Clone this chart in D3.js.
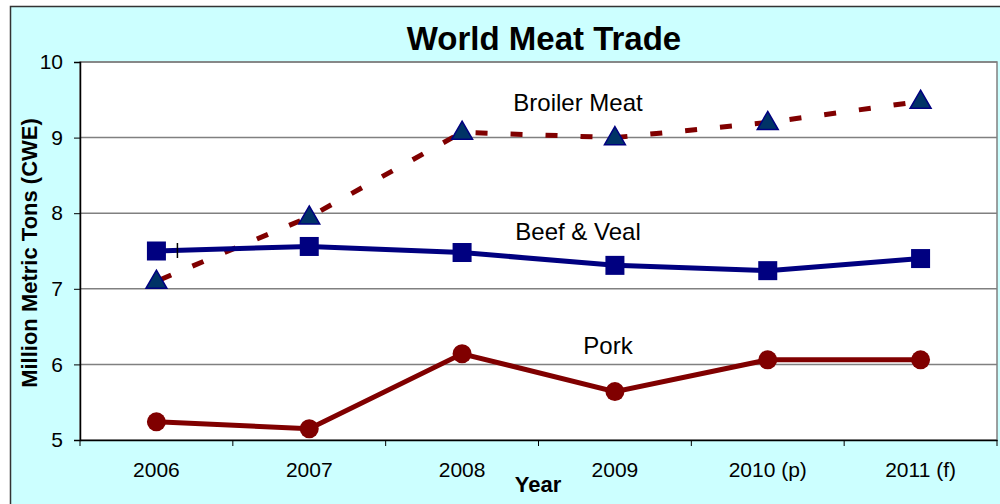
<!DOCTYPE html>
<html>
<head>
<meta charset="utf-8">
<script src="https://cdn.jsdelivr.net/npm/d3@7"></script>
<style>
  body { margin: 0; background: #fff; }
  text { font-family: "Liberation Sans", Arial, sans-serif; }
</style>
</head>
<body>
<svg id="chart"></svg>
<script>
var years = ['2006', '2007', '2008', '2009', '2010 (p)', '2011 (f)'];
var broiler = [7.10, 7.95, 9.07, 9.00, 9.20, 9.48];
var beef = [7.50, 7.56, 7.48, 7.31, 7.24, 7.40];
var pork = [5.24, 5.15, 6.14, 5.64, 6.06, 6.06];
var yTicks = [5, 6, 7, 8, 9, 10];

var chartWidth = 1000;
var chartHeight = 504;
var plotLeft = 80, plotRight = 997, plotTop = 62, plotBottom = 440;

var svg = d3.select('#chart')
  .attr('width', chartWidth)
  .attr('height', chartHeight);

// outer frame
svg.append('rect')
  .attr('x', 10.5).attr('y', 6.5)
  .attr('width', 1000).attr('height', 520)
  .attr('fill', '#CCFFFF')
  .attr('stroke', '#333')
  .attr('stroke-width', 1.5);

svg.append('rect')
  .attr('x', plotLeft).attr('y', plotTop)
  .attr('width', plotRight - plotLeft).attr('height', plotBottom - plotTop)
  .attr('fill', '#fff')
  .attr('stroke', '#808080')
  .attr('stroke-width', 1.5);

var x = d3.scaleBand().domain(years).range([plotLeft, plotRight]);
var y = d3.scaleLinear().domain([5, 10]).range([plotBottom, plotTop]);

// gridlines
svg.append('g')
  .selectAll('line')
  .data(yTicks.slice(1))
  .enter().append('line')
    .attr('x1', plotLeft).attr('x2', plotRight)
    .attr('y1', function(d) { return y(d); })
    .attr('y2', function(d) { return y(d); })
    .attr('stroke', '#808080')
    .attr('stroke-width', 1.5);

// Y axis
var yAxis = svg.append('g')
  .attr('transform', 'translate(' + plotLeft + ',0)')
  .call(d3.axisLeft(y).tickValues(yTicks).tickFormat(d3.format('d')).tickSize(6).tickPadding(11));
yAxis.select('.domain').attr('stroke', '#000').attr('stroke-width', 1.5);
yAxis.selectAll('.tick line').attr('stroke', '#000');
yAxis.selectAll('.tick text')
  .attr('font-size', 21)
  .attr('fill', '#000')
  .style('font-family', '"Liberation Sans", Arial, sans-serif');

// X axis, ticks at band edges
var xAxis = svg.append('g')
  .attr('transform', 'translate(0,' + plotBottom + ')')
  .call(d3.axisBottom(x).tickSize(0).tickPadding(22));
xAxis.select('.domain').attr('stroke', '#000').attr('stroke-width', 1.5);
xAxis.selectAll('.tick text')
  .attr('font-size', 21)
  .attr('fill', '#000')
  .style('font-family', '"Liberation Sans", Arial, sans-serif');
xAxis.selectAll('.edge')
  .data(d3.range(years.length + 1))
  .enter().append('line')
    .attr('class', 'edge')
    .attr('x1', function(i) { return plotLeft + i * x.bandwidth(); })
    .attr('x2', function(i) { return plotLeft + i * x.bandwidth(); })
    .attr('y1', 0).attr('y2', 6)
    .attr('stroke', '#000');

function cx(i) { return x(years[i]) + x.bandwidth() / 2; }

var line = d3.line()
  .x(function(d, i) { return cx(i); })
  .y(function(d) { return y(d); });

// Broiler meat dashed
svg.append('path')
  .datum(broiler)
  .attr('d', line)
  .attr('fill', 'none')
  .attr('stroke', '#800000')
  .attr('stroke-width', 5)
  .attr('stroke-dasharray', '12,23')
  .attr('stroke-dashoffset', -4);

// Beef & Veal
svg.append('path')
  .datum(beef)
  .attr('d', line)
  .attr('fill', 'none')
  .attr('stroke', '#000080')
  .attr('stroke-width', 5);

// Pork
svg.append('path')
  .datum(pork)
  .attr('d', line)
  .attr('fill', 'none')
  .attr('stroke', '#800000')
  .attr('stroke-width', 5);

svg.append('g').selectAll('path')
  .data(broiler)
  .enter().append('path')
    .attr('d', d3.symbol().type(d3.symbolTriangle).size(190))
    .attr('transform', function(d, i) { return 'translate(' + cx(i) + ',' + (y(d) + 1) + ')'; })
    .attr('fill', '#003366')
    .attr('stroke', '#000080')
    .attr('stroke-width', 1.5);

svg.append('g').selectAll('rect')
  .data(beef)
  .enter().append('rect')
    .attr('x', function(d, i) { return cx(i) - 9.5; })
    .attr('y', function(d) { return y(d) - 9.5; })
    .attr('width', 19).attr('height', 19)
    .attr('fill', '#000080');

svg.append('g').selectAll('circle')
  .data(pork)
  .enter().append('circle')
    .attr('cx', function(d, i) { return cx(i); })
    .attr('cy', function(d) { return y(d); })
    .attr('r', 9.5)
    .attr('fill', '#800000');

// little cursor mark next to the first beef point
svg.append('line')
  .attr('x1', cx(0) + 21).attr('x2', cx(0) + 21)
  .attr('y1', y(beef[0]) - 8).attr('y2', y(beef[0]) + 7)
  .attr('stroke', '#000')
  .attr('stroke-width', 1.5);

// series labels
var labels = [
  { text: 'Broiler Meat', x: 578, y: 111 },
  { text: 'Beef & Veal', x: 578, y: 240 },
  { text: 'Pork', x: 608, y: 354 }
];
svg.append('g').selectAll('text')
  .data(labels)
  .enter().append('text')
    .attr('x', function(d) { return d.x; })
    .attr('y', function(d) { return d.y; })
    .attr('text-anchor', 'middle')
    .attr('font-size', 24)
    .text(function(d) { return d.text; });

// title
svg.append('text')
  .attr('x', 544).attr('y', 50)
  .attr('text-anchor', 'middle')
  .attr('font-size', 33)
  .attr('font-weight', 'bold')
  .text('World Meat Trade');

svg.append('text')
  .attr('x', 538).attr('y', 492)
  .attr('text-anchor', 'middle')
  .attr('font-size', 22)
  .attr('font-weight', 'bold')
  .text('Year');

svg.append('text')
  .attr('transform', 'translate(37,' + 253 + ') rotate(-90)')
  .attr('text-anchor', 'middle')
  .attr('font-size', 22)
  .attr('font-weight', 'bold')
  .text('Million Metric Tons (CWE)');
</script>
</body>
</html>
